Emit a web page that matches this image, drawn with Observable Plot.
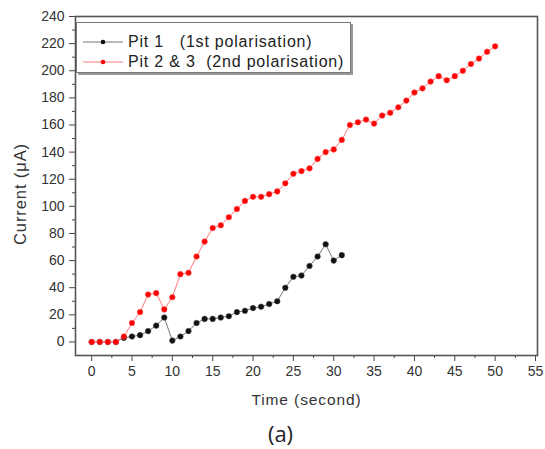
<!DOCTYPE html>
<html>
<head>
<meta charset="utf-8">
<script src="https://cdn.jsdelivr.net/npm/d3@7"></script>
<script src="https://cdn.jsdelivr.net/npm/@observablehq/plot@0.6"></script>
<style>
  html, body { margin: 0; padding: 0; background: #fff; }
  #wrap { position: relative; width: 545px; height: 449px; font-family: "Liberation Sans", Arial, sans-serif; }
  #legend { position: absolute; left: 76px; top: 22px; width: 275px; height: 51px;
            border: 1px solid #777; box-shadow: 2px 2px 0 #999; background: #fff;
            font-size: 16px; letter-spacing: 0.8px; color: #222; box-sizing: border-box; }
  .row { position: absolute; left: 5px; height: 20px; display: flex; align-items: center; white-space: pre; }
</style>
</head>
<body>
<div id="wrap"></div>
<script>
// ---- data ----
const time1 = [0,1,2,3,4,5,6,7,8,9,10,11,12,13,14,15,16,17,18,19,20,21,22,23,24,25,26,27,28,29,30,31];
const pit1  = [0,0,0,0,3,4,5,8,12,18,1,4,8,14,17,17,18,19,22,23,25,26,28,30,40,48,49,56,63,72,60,64];

const time2 = [0,1,2,3,4,5,6,7,8,9,10,11,12,13,14,15,16,17,18,19,20,21,22,23,24,25,26,27,28,29,30,31,32,33,34,35,36,37,38,39,40,41,42,43,44,45,46,47,48,49,50];
const pit23 = [0,0,0,0,4,14,22,35,36,24,33,50,51,63,74,84,86,92,98,104,107,107,109,111,117,124,126,128,135,140,142,149,160,162,164,161,167,169,173,178,184,187,192,196,193,196,200,205,209,214,218];

const seriesNames = ["Pit 1   (1st polarisation)", "Pit 2 & 3  (2nd polarisation)"];
const xMajor = [0,5,10,15,20,25,30,35,40,45,50,55];
const yMajor = [0,20,40,60,80,100,120,140,160,180,200,220,240];
const xLabel = "Time (second)";
const yLabel = "Current (\u03bcA)";
const caption = "(a)";

// ---- build ----
const s1 = time1.map((t, i) => ({t, v: pit1[i]}));
const s2 = time2.map((t, i) => ({t, v: pit23[i]}));
const xMinor = d3.range(2.5, 55, 5);
const yMinor = d3.range(10, 240, 20);

const chart = Plot.plot({
  width: 545,
  height: 449,
  marginLeft: 75,
  marginRight: 8,
  marginTop: 16,
  marginBottom: 94,
  style: {fontFamily: "'Liberation Sans', Arial, sans-serif", fontSize: "14px", color: "#333", background: "#fff"},
  x: {domain: [-2, 55.25]},
  y: {domain: [-10, 240]},
  marks: [
    Plot.axisX({ticks: xMajor, tickSize: 6, tickPadding: 5, label: null, stroke: "#444", fill: "#333", fontSize: 14}),
    Plot.axisX({ticks: xMinor, tickSize: 3, tickFormat: () => "", label: null, stroke: "#444"}),
    Plot.axisY({ticks: yMajor, tickSize: 6, tickPadding: 5, label: null, stroke: "#444", fill: "#333", fontSize: 14}),
    Plot.axisY({ticks: yMinor, tickSize: 3, tickFormat: () => "", label: null, stroke: "#444"}),
    Plot.frame({stroke: "#555", strokeWidth: 1.6}),
    Plot.line(s1, {x: "t", y: "v", stroke: "#777", strokeWidth: 1}),
    Plot.dot(s1, {x: "t", y: "v", r: 2.8, fill: "#111", stroke: "#444", strokeWidth: 0.5}),
    Plot.line(s2, {x: "t", y: "v", stroke: "#ff7a7a", strokeWidth: 1}),
    Plot.dot(s2, {x: "t", y: "v", r: 2.8, fill: "#f00", stroke: "#ff5050", strokeWidth: 0.5}),
    Plot.text([xLabel], {frameAnchor: "bottom", dy: 49, fontSize: 15.5, fill: "#333", text: d => d}),
    Plot.text([yLabel], {frameAnchor: "left", textAnchor: "middle", dx: -55, dy: 8, rotate: -90, fontSize: 16.5, fill: "#333", text: d => d}),
    Plot.text([caption], {frameAnchor: "bottom", dx: -26, dy: 86, fontSize: 22, fontFamily: "'Open Sans', sans-serif", fill: "#222", text: d => d})
  ]
});

// widen axis-label lettering a little, as in the reference
chart.querySelectorAll("text").forEach(t => {
  if (t.textContent === xLabel || t.textContent === yLabel) t.setAttribute("letter-spacing", "0.9");
});

const wrap = document.getElementById("wrap");
wrap.appendChild(chart);

// legend inside the plot area
const legend = document.createElement("div");
legend.id = "legend";
const colors = [["#777", "#111"], ["#ff7a7a", "#f00"]];
seriesNames.forEach((name, i) => {
  const row = document.createElement("div");
  row.className = "row";
  row.style.top = (i === 0 ? 9 : 29) + "px";
  row.innerHTML = `<svg width="42" height="10" style="margin-right:4px"><line x1="1" x2="41" y1="5" y2="5" stroke="${colors[i][0]}" stroke-width="1"/><circle cx="21" cy="5" r="2.3" fill="${colors[i][1]}"/></svg><span>${name}</span>`;
  legend.appendChild(row);
});
wrap.appendChild(legend);
</script>
</body>
</html>
